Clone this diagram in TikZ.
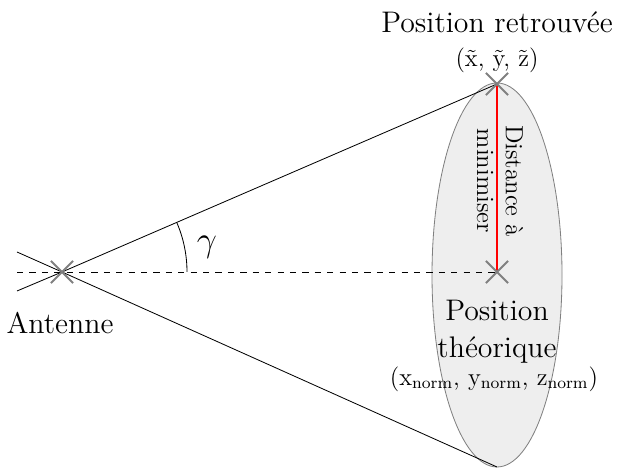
\documentclass[tikz,border=0pt]{standalone}
\usepackage{amsmath}
\usepackage{tikz}
\usetikzlibrary{positioning, shapes.misc}

\tikzset{
    crossmark/.style={draw=gray, cross out, line width=1pt, minimum size=0.34cm, inner sep=0pt},
    biglabel/.style={font=\Large, align=center},
}

\begin{document}
\begin{tikzpicture}[x=0.017cm, y=0.017cm]
    \useasboundingbox (0,0) rectangle (617,471);

    % Zone of possible positions
    \draw[gray, fill=gray!13] (497,196) ellipse (65 and 192);

    % Points
    \coordinate (antpos) at (62,199);
    \coordinate (toppos) at (497,387);
    \coordinate (normpos) at (497,199);
    \coordinate (botpos) at (497,4);
    \coordinate (leftup) at (17,219);
    \coordinate (leftdown) at (17,180);
    \coordinate (leftmid) at (17,199);

    % Cone lines
    \draw (leftup) -- (antpos) -- (botpos);
    \draw (leftdown) -- (antpos) -- (toppos);
    \draw[dashed] (leftmid) -- (normpos);
    \draw[red, line width=0.5pt] (toppos) -- (normpos);

    % Angle
    \draw (antpos) ++(125,0) arc (0:23.4:125);
    \node[font=\LARGE] (gam) at (207,224) {$\gamma$};

    % Crosses
    \node[crossmark] (ant) at (antpos) {};
    \node[crossmark] (found) at (toppos) {};
    \node[crossmark] (theo) at (normpos) {};

    % Labels
    \node[biglabel] (foundlbl) at (497,449) {Position retrouvée};
    \node[font=\large] (foundxyz) at (497,411) {(\~x, \~y, \~z)};
    \node[rotate=-90, align=center, font=\large] (dist) at (500,290) {Distance à\\minimiser};
    \node[biglabel] (theolbl) at (497,139) {Position\\théorique};
    \node[font=\large] (theoxyz) at (494,92) {(x\textsubscript{norm}, y\textsubscript{norm}, z\textsubscript{norm})};
    \node[biglabel] (antlbl) at (60,148) {Antenne};
\end{tikzpicture}
\end{document}
